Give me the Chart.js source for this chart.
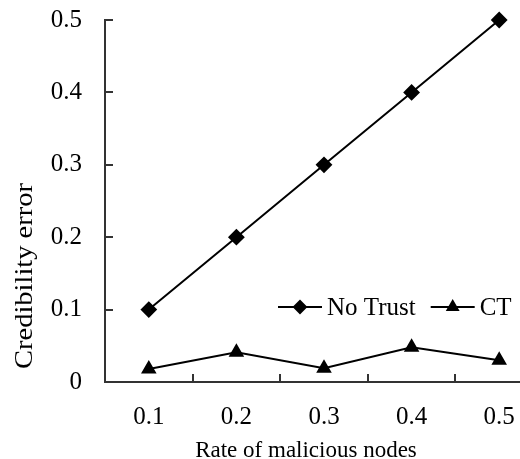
<!DOCTYPE html>
<html>
<head>
<meta charset="utf-8">
<script src="https://cdn.jsdelivr.net/npm/chart.js@4.4.0/dist/chart.umd.min.js"></script>
<style>
  html, body { margin: 0; padding: 0; background: #fff; overflow: hidden; }
  #wrap { position: relative; width: 552px; height: 459px; }
</style>
</head>
<body>
<div id="wrap"><canvas id="chart"></canvas></div>
<script>
// donnees
const rates = ['0.1', '0.2', '0.3', '0.4', '0.5'];
const noTrust = [0.1, 0.2, 0.3, 0.4, 0.5];
const ct = [0.018, 0.041, 0.019, 0.048, 0.030];
const yTicks = [0, 0.1, 0.2, 0.3, 0.4, 0.5];

const xTitle = 'Rate of malicious nodes';
const yTitle = 'Credibility error';
const police = "'Liberation Serif', 'Times New Roman', serif";

// titres d'axes + legende dessines a la main (la legende est dans la zone du graphique)
const decor = {
  id: 'decor',
  afterDraw(chart) {
    const ctx = chart.ctx;
    ctx.save();
    ctx.fillStyle = '#000';

    // titre Y (un peu etire dans le sens du texte, comme sur l'original)
    ctx.font = '25px ' + police;
    ctx.translate(25, 276);
    ctx.rotate(-Math.PI / 2);
    ctx.scale(1.14, 1);
    ctx.textAlign = 'center';
    ctx.textBaseline = 'middle';
    ctx.fillText(yTitle, 0, 0);
    ctx.setTransform(1, 0, 0, 1, 0, 0);

    // titre X
    ctx.font = '23px ' + police;
    ctx.textAlign = 'center';
    ctx.textBaseline = 'alphabetic';
    ctx.fillText(xTitle, 306, 457);

    // legende
    ctx.font = '25px ' + police;
    const ly = 307;
    let lx = 278;
    chart.data.datasets.forEach(ds => {
      ctx.strokeStyle = ds.borderColor;
      ctx.lineWidth = 2;
      ctx.beginPath();
      ctx.moveTo(lx, ly);
      ctx.lineTo(lx + 44, ly);
      ctx.stroke();
      Chart.helpers.drawPoint(ctx, {
        pointStyle: ds.pointStyle,
        radius: ds.pointRadius - 1,
        borderWidth: 1
      }, lx + 22, ly);
      ctx.fillStyle = '#000';
      ctx.fill();
      ctx.textAlign = 'left';
      ctx.textBaseline = 'middle';
      ctx.fillText(ds.label, lx + 49, ly + 1);
      lx += 49 + ctx.measureText(ds.label).width + 15;
    });
    ctx.restore();
  }
};

new Chart(document.getElementById('chart'), {
  type: 'line',
  data: {
    labels: rates,
    datasets: [
      {
        label: 'No Trust',
        data: noTrust,
        borderColor: '#000',
        backgroundColor: '#000',
        borderWidth: 2,
        pointStyle: 'rectRot',
        pointRadius: 7,
        clip: false
      },
      {
        label: 'CT',
        data: ct,
        borderColor: '#000',
        backgroundColor: '#000',
        borderWidth: 2,
        pointStyle: 'triangle',
        pointRadius: 7,
        clip: false
      }
    ]
  },
  options: {
    responsive: true,
    maintainAspectRatio: false,
    animation: false,
    layout: { padding: { top: 20, right: 3, left: 0, bottom: 0 } },
    plugins: {
      legend: { display: false },
      tooltip: { enabled: false }
    },
    scales: {
      x: {
        type: 'category',
        offset: true,
        grid: { offset: true, drawOnChartArea: false, drawTicks: true, tickLength: -8, color: '#333', lineWidth: 2 },
        border: { display: true, color: '#333', width: 2 },
        ticks: { color: '#000', padding: 28, maxRotation: 0, font: { family: police, size: 25 } },
        afterFit(scale) { scale.height = 77; }
      },
      y: {
        min: 0,
        max: 0.5,
        afterBuildTicks(scale) { scale.ticks = yTicks.map(v => ({ value: v })); },
        grid: { drawOnChartArea: false, drawTicks: true, tickLength: -8, color: '#333', lineWidth: 2 },
        border: { display: true, color: '#333', width: 2 },
        ticks: { color: '#000', padding: 31, font: { family: police, size: 25 } },
        afterFit(scale) {
          scale.width = 105;
          // le gros padding des etiquettes ne doit pas pousser le haut du graphique
          scale.paddingTop = 14;
          scale.paddingBottom = 14;
        }
      }
    }
  },
  plugins: [decor]
});
</script>
</body>
</html>
